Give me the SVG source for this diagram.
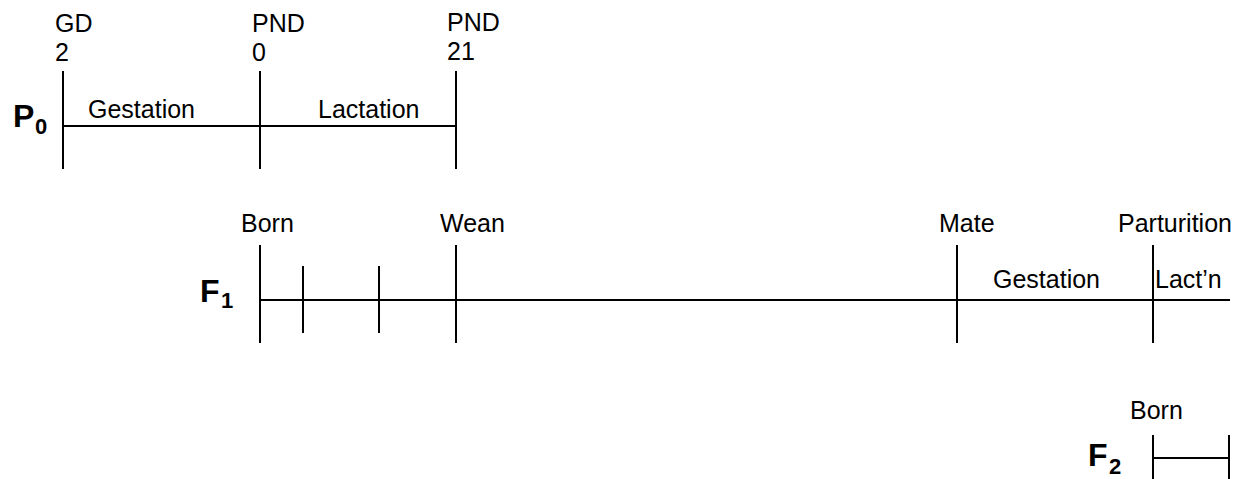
<svg xmlns="http://www.w3.org/2000/svg" width="1238" height="479" viewBox="0 0 1238 479">
<style>
.t{font-family:"Liberation Sans",Arial,sans-serif;font-size:25px;fill:#000}
.gl{font-family:"Liberation Sans",Arial,sans-serif;font-size:32px;font-weight:bold;fill:#000}
.sb{font-family:"Liberation Sans",Arial,sans-serif;font-size:22px;font-weight:bold;fill:#000}
.ln{stroke:#000;stroke-width:2;fill:none}
</style>
<rect width="1238" height="479" fill="#fff"/>
<g id="connectors">
<line class="ln" x1="63" y1="126" x2="456" y2="126"/>
<line class="ln" x1="260" y1="300" x2="1230" y2="300"/>
<line class="ln" x1="1153" y1="458" x2="1229" y2="458"/>
</g>
<g id="P0">
<text class="gl" x="13" y="127">P</text><text class="sb" x="35" y="134">0</text>
<line class="ln" x1="63" y1="71" x2="63" y2="169"/>
<line class="ln" x1="260" y1="71" x2="260" y2="169"/>
<line class="ln" x1="456" y1="71" x2="456" y2="169"/>
<text class="t" x="55" y="32">GD</text><text class="t" x="55" y="61">2</text>
<text class="t" x="252" y="32">PND</text><text class="t" x="252" y="61">0</text>
<text class="t" x="447" y="31">PND</text><text class="t" x="447" y="60">21</text>
<text class="t" x="88" y="118">Gestation</text>
<text class="t" x="318" y="118">Lactation</text>
</g>
<g id="F1">
<text class="gl" x="200" y="302">F</text><text class="sb" x="221" y="308">1</text>
<line class="ln" x1="260" y1="245" x2="260" y2="343"/>
<line class="ln" x1="303" y1="266" x2="303" y2="333"/>
<line class="ln" x1="379" y1="266" x2="379" y2="333"/>
<line class="ln" x1="456" y1="245" x2="456" y2="343"/>
<line class="ln" x1="957" y1="245" x2="957" y2="343"/>
<line class="ln" x1="1153" y1="245" x2="1153" y2="343"/>
<text class="t" x="241" y="232">Born</text>
<text class="t" x="440" y="232">Wean</text>
<text class="t" x="939" y="232">Mate</text>
<text class="t" x="1118" y="232">Parturition</text>
<text class="t" x="993" y="288">Gestation</text>
<text class="t" x="1155" y="288">Lact’n</text>
</g>
<g id="F2">
<text class="gl" x="1088" y="466">F</text><text class="sb" x="1109" y="474">2</text>
<line class="ln" x1="1153" y1="435" x2="1153" y2="479"/>
<line class="ln" x1="1229" y1="435" x2="1229" y2="479"/>
<text class="t" x="1130" y="419">Born</text>
</g>
</svg>
